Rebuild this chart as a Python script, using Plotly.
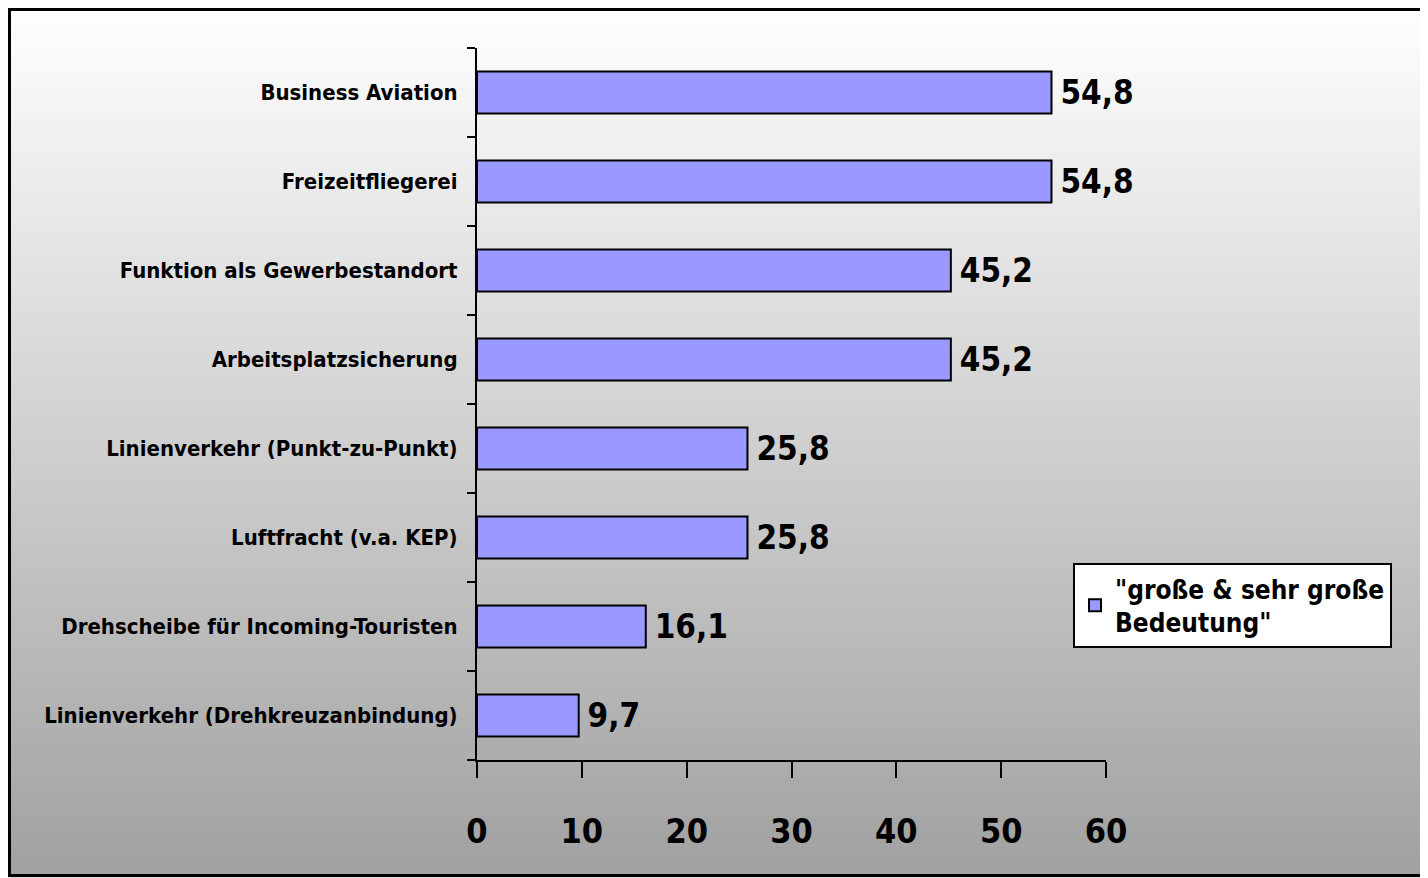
import plotly.graph_objects as go

# Data (top to bottom as shown in the chart)
categories = [
    "Business Aviation",
    "Freizeitfliegerei",
    "Funktion als Gewerbestandort",
    "Arbeitsplatzsicherung",
    "Linienverkehr (Punkt-zu-Punkt)",
    "Luftfracht (v.a. KEP)",
    "Drehscheibe für Incoming-Touristen",
    "Linienverkehr (Drehkreuzanbindung)",
]
values = [54.8, 54.8, 45.2, 45.2, 25.8, 25.8, 16.1, 9.7]
series_name = '"große & sehr große<br>Bedeutung"'
x_ticks = [0, 10, 20, 30, 40, 50, 60]

# page is drawn with an 8px body margin, so figure coords = page coords - 8
W, H = 1420, 870
L, R, T, B = 469, 1098, 40, 752
pw, ph = R - L, B - T

FONT = "DejaVu Sans Condensed, Liberation Sans Narrow, sans-serif"

fig = go.Figure()
fig.add_trace(go.Bar(
    y=categories,
    x=values,
    orientation="h",
    name=series_name,
    marker=dict(color="#9999FF", line=dict(color="black", width=2)),
    texttemplate="\u2009%{x:.1f}",
    textposition="outside",
    textfont=dict(family=FONT, size=33, color="black", weight="bold"),
    cliponaxis=False,
    showlegend=True,
))


def px_x(p):
    return (p - L) / pw


def px_y(p):
    return (B - p) / ph


# background: vertical white-to-gray gradient inside a black frame
shapes = []
top, bot = 2, 866
n = 120
for i in range(n):
    y0 = top + (bot - top) * i / n
    y1 = top + (bot - top) * (i + 1) / n + 0.6
    f = i / (n - 1)
    c = int(round(254 - f * (254 - 161)))
    shapes.append(dict(type="rect", xref="paper", yref="paper",
                       x0=px_x(2), x1=px_x(W + 5), y0=px_y(y1), y1=px_y(y0),
                       fillcolor=f"rgb({c},{c},{c})", line=dict(width=0), layer="below"))
shapes.append(dict(type="rect", xref="paper", yref="paper",
                   x0=px_x(1.5), x1=px_x(W + 5), y0=px_y(867.5), y1=px_y(1.5),
                   fillcolor="rgba(0,0,0,0)", line=dict(color="black", width=3), layer="below"))

fig.update_layout(
    width=W, height=H,
    margin=dict(l=L, r=W - R, t=T, b=H - B, pad=0),
    paper_bgcolor="#dcdcdc",
    plot_bgcolor="rgba(0,0,0,0)",
    separators=",.",
    bargap=0.53,
    shapes=shapes,
    font=dict(family=FONT, color="black"),
    xaxis=dict(
        range=[0, 60], tickvals=x_ticks, ticks="outside", ticklen=16, tickwidth=2,
        tickcolor="black", showline=True, linecolor="black", linewidth=2,
        showgrid=False, zeroline=False, ticklabelstandoff=24,
        tickfont=dict(family=FONT, size=34, color="black", weight="bold"),
    ),
    yaxis=dict(
        categoryorder="array", categoryarray=categories[::-1],
        ticks="outside", ticklen=8, tickwidth=2, tickcolor="black",
        tickson="boundaries", showline=True, linecolor="black", linewidth=2,
        showgrid=False, ticklabelstandoff=13,
        tickfont=dict(family=FONT, size=22, color="black", weight="bold"),
    ),
    legend=dict(
        x=px_x(1065), y=px_y(555), xanchor="left", yanchor="top",
        bgcolor="white", bordercolor="black", borderwidth=2,
        font=dict(family=FONT, size=26, color="black", weight="bold"),
        itemwidth=30,
    ),
)

fig.write_html("out.html")
